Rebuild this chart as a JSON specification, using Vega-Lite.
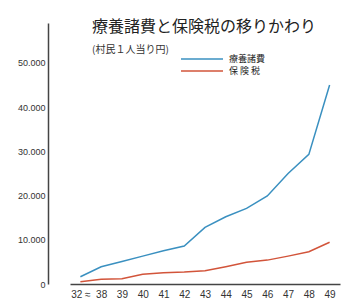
{
  "$schema": "https://vega.github.io/schema/vega-lite/v6.json",
  "autosize": {"type": "none"},
  "width": 304,
  "height": 261,
  "padding": {"left": 48, "top": 23, "right": 11, "bottom": 20},
  "background": "#ffffff",
  "title": {
    "text": "療養諸費と保険税の移りかわり",
    "subtitle": "(村民１人当り円)",
    "anchor": "start",
    "frame": "group",
    "dx": 44,
    "offset": -32,
    "font": "Noto Sans CJK JP",
    "fontSize": 16,
    "fontWeight": "normal",
    "color": "#222222",
    "subtitleFont": "Noto Sans CJK JP",
    "subtitleFontSize": 10,
    "subtitleColor": "#333333",
    "subtitlePadding": 10
  },
  "config": {
    "view": {"stroke": null},
    "font": "Liberation Sans"
  },
  "data": {
    "values": [
      {"year": "32", "series": "療養諸費", "value": 1650},
      {"year": "38", "series": "療養諸費", "value": 3900},
      {"year": "39", "series": "療養諸費", "value": 5100},
      {"year": "40", "series": "療養諸費", "value": 6300},
      {"year": "41", "series": "療養諸費", "value": 7500},
      {"year": "42", "series": "療養諸費", "value": 8600},
      {"year": "43", "series": "療養諸費", "value": 12800},
      {"year": "44", "series": "療養諸費", "value": 15200},
      {"year": "45", "series": "療養諸費", "value": 17100},
      {"year": "46", "series": "療養諸費", "value": 19900},
      {"year": "47", "series": "療養諸費", "value": 25000},
      {"year": "48", "series": "療養諸費", "value": 29300},
      {"year": "49", "series": "療養諸費", "value": 45000},
      {"year": "32", "series": "保 険 税", "value": 520},
      {"year": "38", "series": "保 険 税", "value": 1060},
      {"year": "39", "series": "保 険 税", "value": 1200},
      {"year": "40", "series": "保 険 税", "value": 2200},
      {"year": "41", "series": "保 険 税", "value": 2550},
      {"year": "42", "series": "保 険 税", "value": 2700},
      {"year": "43", "series": "保 険 税", "value": 3000},
      {"year": "44", "series": "保 険 税", "value": 3900},
      {"year": "45", "series": "保 険 税", "value": 4900},
      {"year": "46", "series": "保 険 税", "value": 5400},
      {"year": "47", "series": "保 険 税", "value": 6300},
      {"year": "48", "series": "保 険 税", "value": 7300},
      {"year": "49", "series": "保 険 税", "value": 9450}
    ]
  },
  "mark": {"type": "line", "strokeWidth": 1.5},
  "encoding": {
    "x": {
      "field": "year",
      "type": "ordinal",
      "sort": null,
      "scale": {"type": "point", "range": [22, 292]},
      "axis": {
        "title": null,
        "labelAngle": 0,
        "ticks": false,
        "labelPadding": 5,
        "labelFontSize": 10,
        "labelColor": "#333333",
        "domainColor": "#444444",
        "domainWidth": 1.5,
        "labelExpr": "datum.value == '32' ? '32 ≈' : datum.value"
      }
    },
    "y": {
      "field": "value",
      "type": "quantitative",
      "scale": {"domain": [0, 59000], "nice": false},
      "axis": {
        "title": null,
        "values": [0, 10000, 20000, 30000, 40000, 50000],
        "grid": false,
        "ticks": false,
        "labelPadding": 3,
        "labelFontSize": 9,
        "labelColor": "#333333",
        "domainColor": "#444444",
        "domainWidth": 1.5,
        "labelExpr": "replace(format(datum.value, ','), ',', '.')"
      }
    },
    "color": {
      "field": "series",
      "type": "nominal",
      "sort": ["療養諸費", "保 険 税"],
      "scale": {"domain": ["療養諸費", "保 険 税"], "range": ["#3a90c0", "#d2543a"]},
      "legend": {
        "title": null,
        "orient": "none",
        "legendX": 164,
        "legendY": 30,
        "symbolType": "M-7.4,0H1",
        "symbolSize": 100,
        "symbolStrokeWidth": 1.5,
        "labelFont": "Noto Sans CJK JP",
        "labelFontSize": 9,
        "labelColor": "#222222",
        "labelOffset": 5,
        "rowPadding": 1
      }
    }
  }
}
